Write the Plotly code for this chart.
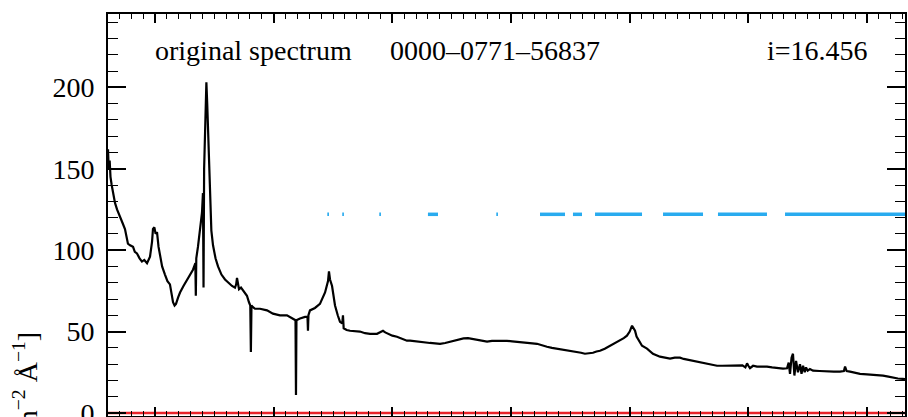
import plotly.graph_objects as go

# Spectrum (observed wavelength in Angstrom, flux in 1e-17 erg/s/cm^2/A)
wave = [3604, 3610, 3618, 3625, 3635, 3650, 3663, 3680, 3705, 3725, 3747, 3772, 3790, 3815, 3830, 3848,
        3870, 3890, 3910, 3933, 3958, 3975, 3983, 3995, 4005, 4017, 4030, 4042, 4060, 4084, 4105, 4126,
        4140, 4152, 4165, 4177, 4195, 4211, 4240, 4270, 4295, 4320, 4335, 4340, 4344, 4348, 4362, 4380,
        4396, 4404, 4409, 4414, 4425, 4433, 4440, 4448, 4455, 4463, 4475, 4489, 4510, 4531, 4560, 4590,
        4620, 4649, 4674, 4684, 4691, 4700, 4708, 4725, 4742, 4760, 4775, 4792, 4803, 4808, 4813, 4826,
        4843, 4885, 4944, 4994, 5053, 5112, 5154, 5184, 5188, 5192, 5222, 5264, 5285, 5289, 5293, 5306,
        5348, 5390, 5433, 5458, 5466, 5475, 5492, 5517, 5540, 5559, 5578, 5584, 5590, 5615, 5643, 5690,
        5727, 5770, 5812, 5871, 5900, 5921, 5940, 5963, 6000, 6039, 6080, 6123, 6149, 6190, 6233, 6275,
        6317, 6360, 6402, 6445, 6486, 6530, 6570, 6600, 6638, 6675, 6713, 6755, 6798, 6840, 6882, 6925,
        6966, 7010, 7050, 7095, 7135, 7180, 7219, 7260, 7303, 7345, 7388, 7430, 7472, 7515, 7556, 7590,
        7623, 7660, 7691, 7720, 7750, 7790, 7834, 7876, 7918, 7950, 7977, 8000, 8020, 8035, 8045, 8058,
        8070, 8085, 8104, 8146, 8196, 8255, 8300, 8340, 8380, 8424, 8455, 8483, 8525, 8567, 8610, 8652,
        8700, 8736, 8780, 8820, 8860, 8904, 8950, 8975, 8989, 9000, 9014, 9040, 9073, 9115, 9157, 9200,
        9241, 9292, 9326, 9340, 9351, 9364, 9376, 9388, 9402, 9418, 9435, 9448, 9461, 9475, 9486, 9500,
        9519, 9545, 9600, 9663, 9720, 9772, 9805, 9815, 9828, 9857, 9900, 9941, 10000, 10050, 10100, 10135,
        10180, 10219, 10260, 10300, 10320]
flux = [162, 150, 155, 145, 140, 133, 129, 125, 121, 117, 113, 104, 103, 102, 99, 98,
        95, 93, 94, 92, 96, 105, 113, 114, 110, 111, 102, 96, 90, 85, 81, 79,
        72, 68, 66, 67, 71, 74, 78, 82, 85, 88, 91, 92, 72, 95, 102, 113,
        123, 135, 77, 150, 180, 203, 190, 170, 150, 129, 112, 103, 95, 90, 85, 82,
        80, 78, 77, 79, 83, 78, 76, 77, 75, 73, 72, 68, 66, 37.5, 66, 65,
        64, 64, 63, 61, 60, 60, 58, 57, 11, 57, 58, 59, 59, 50.5, 60, 63,
        64.5, 67, 74, 81, 87, 82, 78, 66, 60, 56, 55, 60, 52, 51, 50.5, 50,
        50, 49, 48.6, 48.6, 49.5, 50.5, 49.5, 48.6, 47.5, 46.8, 45.5, 44.4, 44.4, 44, 43.8, 43.5,
        43, 42.8, 42.5, 43, 43.8, 44.5, 45, 45.8, 46, 45.5, 45, 44.3, 43.8, 44.3, 44.3, 44.5,
        44.3, 44, 43.8, 43.5, 43, 42.8, 42.5, 41.5, 40.7, 40, 39.5, 39, 38.8, 38, 37.6, 37,
        36.4, 36.6, 37, 37.8, 38.2, 39.5, 41.3, 43, 44.4, 46, 47.5, 50, 53.6, 52, 50.5, 47,
        45.6, 43, 41.3, 39.5, 36.4, 34.6, 33.8, 33.4, 34, 34, 33.2, 32.8, 32, 31.5, 30.8, 30.3,
        29.6, 29, 29, 29, 29, 29, 29.3, 28, 30.5, 29, 27.5, 29, 28.5, 28.5, 28.5, 28,
        27.8, 27.2, 27.5, 31, 24, 34, 36.4, 23, 32, 25, 30, 24, 29, 25, 28, 26,
        27, 26, 25.8, 25.4, 25.4, 25.4, 25.8, 28.5, 25.8, 25.4, 24.5, 24, 23.7, 23.5, 23.2, 22.9,
        22.3, 21.7, 21.2, 21, 20.8]

# Masked-pixel regions (start / end wavelength) and the level where they are marked
mask_start = [5452, 5578, 5890, 6300, 6876, 7244, 7522, 7708, 8281, 8744, 9309]
mask_end = [5466, 5592, 5904, 6385, 6890, 7455, 7598, 8104, 8618, 9157, 10320]
mask_level = 122

zero_x = [3604, 10320]
zero_y = [0, 0]

x_range = [3604, 10320]
y_range = [-1.84, 245]

fig = go.Figure()

mx, my = [], []
for s, e in zip(mask_start, mask_end):
    mx += [s, e, None]
    my += [mask_level, mask_level, None]
fig.add_trace(go.Scatter(x=mx, y=my, mode="lines",
                         line=dict(color="#29ABEF", width=3.5), hoverinfo="skip"))

fig.add_trace(go.Scatter(x=zero_x, y=zero_y, mode="lines",
                         line=dict(color="#E8232A", width=2.5), hoverinfo="skip"))

fig.add_trace(go.Scatter(x=wave, y=flux, mode="lines",
                         line=dict(color="black", width=2.2)))

serif = "Liberation Serif"
fig.update_layout(
    width=908, height=417,
    margin=dict(l=108, r=3, t=14, b=1, autoexpand=False),
    paper_bgcolor="white", plot_bgcolor="white",
    showlegend=False,
    font=dict(family=serif, size=28, color="black"),
)
fig.update_xaxes(range=x_range, showgrid=False, zeroline=False, automargin=False,
                 showline=True, linecolor="black", linewidth=2, mirror="allticks",
                 ticks="inside", ticklen=9, tickwidth=1.5, tickcolor="black",
                 tick0=0, dtick=1000, showticklabels=False,
                 minor=dict(ticks="inside", ticklen=5, dtick=100, tickcolor="black", tickwidth=1.2))
fig.update_yaxes(range=y_range, showgrid=False, zeroline=False, automargin=False,
                 showline=True, linecolor="black", linewidth=2, mirror="allticks",
                 ticks="inside", ticklen=18, tickwidth=1.5, tickcolor="black",
                 tick0=0, dtick=50, ticklabelstandoff=6, ticklabeloverflow="allow",
                 tickfont=dict(family=serif, size=28, color="black"),
                 minor=dict(ticks="inside", ticklen=10, dtick=10, tickcolor="black", tickwidth=1.2))

def px_x(p):
    return (p - 108) / 797.0

def px_y(p):
    return (416 - p) / 402.0

fig.add_annotation(text="original spectrum", xref="paper", yref="paper",
                   x=px_x(153), y=px_y(51), xanchor="left", yanchor="middle",
                   showarrow=False, font=dict(family=serif, size=28, color="black"))
fig.add_annotation(text="0000\u20130771\u201356837", xref="paper", yref="paper",
                   x=px_x(388), y=px_y(51), xanchor="left", yanchor="middle",
                   showarrow=False, font=dict(family=serif, size=28, color="black"))
fig.add_annotation(text="i=16.456", xref="paper", yref="paper",
                   x=px_x(870), y=px_y(51), xanchor="right", yanchor="middle",
                   showarrow=False, font=dict(family=serif, size=28, color="black"))
fig.add_annotation(text="F<sub>\u03bb</sub> [10<sup>\u221217</sup> erg s<sup>\u22121</sup> cm<sup>\u22122</sup> \u00c5<sup>\u22121</sup>]",
                   xref="paper", yref="paper", x=px_x(28), y=px_y(330),
                   xanchor="center", yanchor="top", textangle=-90,
                   showarrow=False, font=dict(family=serif, size=28, color="black"))

fig.write_html("out.html")
